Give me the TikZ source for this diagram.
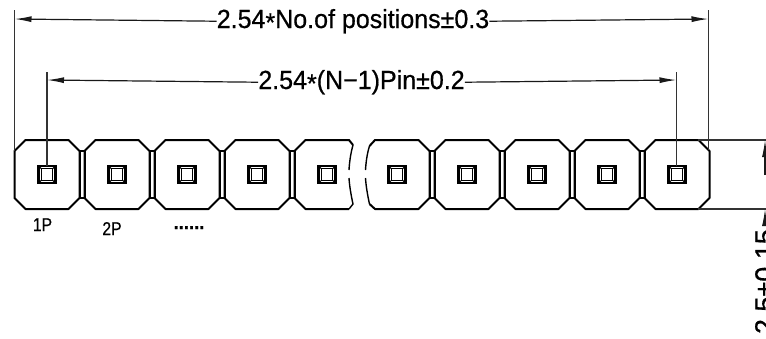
\documentclass[tikz,border=0pt]{standalone}
\usepackage{fontspec}
\setmainfont{Liberation Sans}[RawFeature={embolden=0.6}]
\usetikzlibrary{arrows.meta}
\tikzset{
  x=1pt,y=-1pt,
  outline/.style={line width=2pt,line join=round},
  thinline/.style={line width=1.2pt,draw=black!80},
  dimline/.style={line width=1.2pt,draw=black!90,-{Latex[length=17pt,width=6pt]}},
  dimtext/.style={inner sep=0pt,font=\fontsize{26.2}{26}\selectfont},
  pintext/.style={inner sep=0pt,font=\fontsize{18.5}{19}\selectfont},
}
\newcommand{\starmark}{\raisebox{-.25ex}{*}}
\newcommand{\pinbox}[1]{%
  \draw[line width=2.4pt] (#1-8.5,165.8) rectangle (#1+8.5,183.2);
  \draw[line width=1.2pt] (#1-5.5,168.8) rectangle (#1+5.5,180.2);
  \draw[line width=1pt] (#1-8.5,165.8) -- (#1-5.5,168.8) (#1+8.5,165.8) -- (#1+5.5,168.8)
     (#1-8.5,183.2) -- (#1-5.5,180.2) (#1+8.5,183.2) -- (#1+5.5,180.2);
}
\newcommand{\fullpad}[1]{%
  \draw[outline] (#1,151) -- (#1+11,140) -- (#1+54,140) -- (#1+65,151) -- (#1+65,198) -- (#1+54,209) -- (#1+11,209) -- (#1,198) -- cycle;
}
\newcommand{\postbar}[1]{\draw[outline] (#1,151) rectangle (#1+5,198);}
\begin{document}
\begin{tikzpicture}
\useasboundingbox (0,0) rectangle (766,338);
\clip (0,0) rectangle (766,338);
% pads
\foreach \a in {14.5,84.5,154.5,224.5,434.5,504.5,574.5,644.5} {\fullpad{\a}}
\foreach \a in {79.5,149.5,219.5,289.5,429.5,499.5,569.5,639.5} {\postbar{\a}}
% broken pads
\draw[outline] (349,209) -- (305.5,209) -- (294.5,198) -- (294.5,151) -- (305.5,140) -- (349,140) -- (353,145);
\draw[outline,line width=1.4pt] (353,145) .. controls (350.5,154) and (349.5,162) .. (349,170);
\draw[outline,line width=1.4pt] (349,178) .. controls (349.5,186) and (351,195) .. (353,204) -- (349,209);
\draw[outline] (429.5,151) -- (418.5,140) -- (375,140) -- (369.5,146);
\draw[outline,line width=1.4pt] (369.5,146) .. controls (367,154) and (366,162) .. (365.5,170);
\draw[outline,line width=1.4pt] (365.5,178) .. controls (366,186) and (367.5,195) .. (369.5,204);
\draw[outline] (369.5,204) -- (375,209) -- (418.5,209) -- (429.5,198) -- (429.5,151);
% pins
\foreach \a in {47,117,187,257,327,397,467,537,607,677} {\pinbox{\a}}
% named anchors
\coordinate (extLtop) at (14.5,10);
\coordinate (extLbot) at (14.5,151);
\coordinate (extRtop) at (708.5,10);
\coordinate (extRbot) at (708.5,150);
\coordinate (pinLtop) at (47,72);
\coordinate (pinLbot) at (47,166);
\coordinate (pinRtop) at (676.5,72);
\coordinate (pinRbot) at (676.5,166);
\coordinate (topA) at (14.5,19);
\coordinate (topB) at (708.5,19);
\coordinate (midA) at (47,80);
\coordinate (midB) at (676.5,80);
\coordinate (hiA) at (698,140);
\coordinate (hiB) at (766,140);
\coordinate (loA) at (698,209);
\coordinate (loB) at (766,209);
\coordinate (vUp) at (765,140);
\coordinate (vDn) at (765,209);
\coordinate (vMid) at (765,175);
\coordinate (vTail) at (765,226);
% extension lines
\draw[thinline] (extLtop) -- (extLbot);
\draw[thinline] (extRtop) -- (extRbot);
\draw[thinline] (pinLtop) -- (pinLbot);
\draw[thinline] (pinRtop) -- (pinRbot);
\draw[thinline] (hiA) -- (hiB);
\draw[thinline] (loA) -- (loB);
% labels
\node[dimtext,anchor=base] (dimall) at (353,28) {\scalebox{.955}[1]{2.54\starmark No.of positions±0.3}};
\node[dimtext,anchor=base] (dimpin) at (361.5,89) {\scalebox{.955}[1]{2.54\starmark(N−1)Pin±0.2}};
\node[pintext,anchor=base] (pone) at (42.5,231) {\scalebox{.85}[1]{1P}};
\node[pintext,anchor=base] (ptwo) at (112,235) {\scalebox{.85}[1]{2P}};
\node[pintext,anchor=base] (pdots) at (189,229) {\textbf{......}};
\node[dimtext,font=\fontsize{27}{27}\selectfont,anchor=base east,rotate=90] (dimh) at (774,229) {2.5±0.15};
% dimension arrows
\draw[dimline] (dimall.west) -- (topA);
\draw[dimline] (dimall.east) -- (topB);
\draw[dimline] (dimpin.west) -- (midA);
\draw[dimline] (dimpin.east) -- (midB);
\draw[dimline] (vMid) -- (vUp);
\draw[dimline] (vTail) -- (vDn);
\end{tikzpicture}
\end{document}
